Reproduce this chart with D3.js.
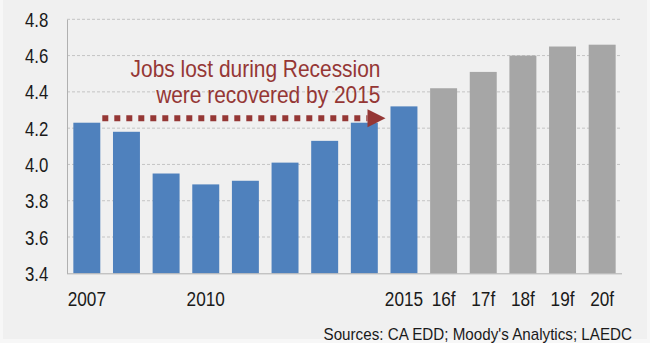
<!DOCTYPE html>
<html>
<head>
<meta charset="utf-8">
<script src="https://cdn.jsdelivr.net/npm/d3@7"></script>
<style>
  html, body { margin: 0; padding: 0; background: #f7f7f7; }
  svg { display: block; }
  text { font-family: "Liberation Sans", Arial, sans-serif; }
</style>
</head>
<body>
<script>
// Employment (millions), actuals 2007–2015 and forecasts 2016–2020
const years = ["2007","2008","2009","2010","2011","2012","2013","2014","2015","16f","17f","18f","19f","20f"];
const jobs  = [4.23, 4.18, 3.95, 3.89, 3.91, 4.01, 4.13, 4.23, 4.32, 4.42, 4.51, 4.60, 4.65, 4.66];
const shownYearLabels = ["2007","2010","2015","16f","17f","18f","19f","20f"];
const yTicks = [3.4, 3.6, 3.8, 4.0, 4.2, 4.4, 4.6, 4.8];
const noteLines = ["Jobs lost during Recession", "were recovered by 2015"];
const sourceNote = "Sources: CA EDD; Moody's Analytics; LAEDC";
const recoveryLevel = 4.255;       // height of the recovery arrow
const recoveryFrom = "2007", recoveryTo = "2015";

const W = 650, H = 343;
const margin = { left: 67, right: 28, top: 19.3, bottom: 69.7 };
const squeeze = 0.84;              // condensed look for axis labels

const svg = d3.select("body").append("svg").attr("width", W).attr("height", H);

svg.append("rect").attr("x", 3).attr("y", 0).attr("width", W - 6).attr("height", H - 4)
  .attr("fill", "#f0f0f0");

const x = d3.scaleBand().domain(years)
  .range([margin.left, W - margin.right]).paddingInner(0.32).paddingOuter(0.16);
const y = d3.scaleLinear().domain([3.4, 4.8]).range([H - margin.bottom, margin.top]);

// gridlines
svg.append("g").selectAll("line").data(yTicks.slice(1)).join("line")
  .attr("x1", margin.left).attr("x2", W - margin.right)
  .attr("y1", d => y(d)).attr("y2", d => y(d))
  .attr("stroke", "#c4c4c4").attr("stroke-width", 1).attr("stroke-dasharray", "3,2");

// y axis
const yPad = 18.7;
const yAxis = svg.append("g").attr("transform", `translate(${margin.left},0)`)
  .call(d3.axisLeft(y).tickValues(yTicks).tickFormat(d3.format(".1f")).tickSize(0));
yAxis.select(".domain").attr("stroke", "#b0b0b0");
yAxis.selectAll("text").attr("font-size", 20).attr("fill", "#1a1a1a").attr("dy", "0.35em")
  .attr("x", -yPad / squeeze).attr("transform", `scale(${squeeze},1)`);

// bars
svg.append("g").selectAll("rect").data(jobs).join("rect")
  .attr("x", (d, i) => x(years[i]))
  .attr("width", x.bandwidth())
  .attr("y", d => y(d))
  .attr("height", d => y(3.4) - y(d))
  .attr("fill", (d, i) => years[i].endsWith("f") ? "#a6a6a6" : "#4f81bd");

// x axis baseline and labels
const xAxis = svg.append("g").attr("transform", `translate(0,${y(3.4)})`)
  .call(d3.axisBottom(x).tickValues(shownYearLabels).tickSize(0).tickPadding(18.5));
xAxis.select(".domain").attr("stroke", "#b0b0b0").attr("d", `M${margin.left},0.5H${W - margin.right}`);
xAxis.selectAll("text").attr("font-size", 20.5).attr("fill", "#1a1a1a")
  .attr("transform", `scale(${squeeze},1)`);

// recovery arrow
const red = "#953735";
const ax0 = x(recoveryFrom) + x.bandwidth() + 2;
const axTip = x(recoveryTo) - 5;
const ay = y(recoveryLevel);
svg.append("line")
  .attr("x1", ax0).attr("x2", axTip - 18).attr("y1", ay).attr("y2", ay)
  .attr("stroke", red).attr("stroke-width", 6).attr("stroke-dasharray", "6,6");
svg.append("path")
  .attr("d", `M${axTip - 18},${ay - 9}L${axTip},${ay}L${axTip - 18},${ay + 9}Z`)
  .attr("fill", red);

// annotation text
svg.append("text")
  .attr("transform", `translate(${axTip - 5},76.7) scale(0.91,1)`)
  .attr("text-anchor", "end")
  .attr("font-size", 23).attr("fill", red)
  .selectAll("tspan").data(noteLines).join("tspan")
  .attr("x", 0).attr("dy", (d, i) => i ? 26.6 : 0).text(d => d);

// source note
svg.append("text")
  .attr("transform", "translate(632,339.5) scale(0.95,1)")
  .attr("text-anchor", "end")
  .attr("font-size", 16).attr("fill", "#1a1a1a").text(sourceNote);
</script>
</body>
</html>
